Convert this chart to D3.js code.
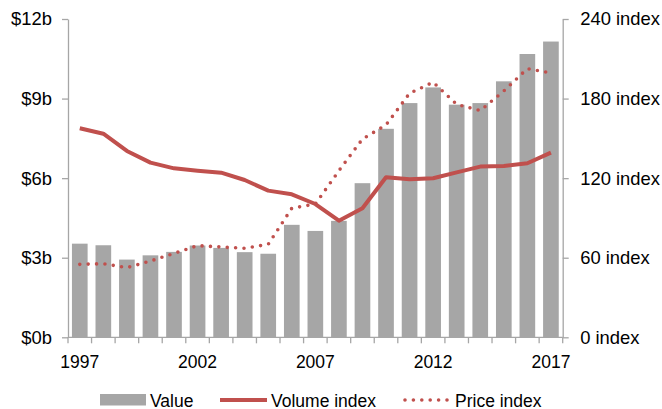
<!DOCTYPE html>
<html><head><meta charset="utf-8">
<script src="https://cdn.jsdelivr.net/npm/d3@7"></script>
<style>
html,body{margin:0;padding:0;background:#fff;}
svg{display:block;font-family:"Liberation Sans",Arial,sans-serif;}
</style></head>
<body><svg id="c" width="662" height="409"></svg>
<script>
const years = [1997,1998,1999,2000,2001,2002,2003,2004,2005,2006,2007,2008,2009,2010,2011,2012,2013,2014,2015,2016,2017];
const value = [3.53,3.47,2.93,3.09,3.22,3.46,3.37,3.21,3.15,4.24,4.01,4.39,5.81,7.86,8.83,9.42,8.77,8.83,9.65,10.68,11.15];
const volumeIndex = [157.6,153.5,140.5,131.7,127.4,125.6,124.1,118.6,110.6,107.8,100.5,87.9,97.3,120.7,119.2,119.9,124.4,128.7,129.2,131.2,139.2];
const priceIndex = [55.0,55.5,52.5,57.5,63.3,69.1,68.1,67.1,70.1,97.3,100.5,125.6,149.5,160.1,184.0,192.3,175.7,170.9,185.7,202.6,199.3];
const leftTicks = [0,3,6,9,12];
const rightTicks = [0,60,120,180,240];
const xLabelYears = [1997,2002,2007,2012,2017];
const legendLabels = ["Value","Volume index","Price index"];

const svg = d3.select("#c");
const L = 68, R = 562.7, T = 19, B = 337.3;
const axisCol = "#a6a6a6", barCol = "#a6a6a6", red = "#c0504d";
const fs = "17.5px", fsY = "18.4px";

const x = d3.scaleBand().domain(years).range([L,R]).paddingInner(0.335).paddingOuter(0.1675);
const yL = d3.scaleLinear().domain([0,12]).range([B,T]);
const yR = d3.scaleLinear().domain([0,240]).range([B,T]);

// bars
svg.append("g").selectAll("rect").data(years).join("rect")
  .attr("x", d => x(d)).attr("width", x.bandwidth())
  .attr("y", (d,i) => yL(value[i])).attr("height", (d,i) => B - yL(value[i]))
  .attr("fill", barCol);

// left axis
const gl = svg.append("g").attr("transform",`translate(${L},0)`)
  .call(d3.axisLeft(yL).tickValues(leftTicks).tickFormat(d=>`$${d}b`).tickSize(6).tickPadding(10).tickSizeOuter(0));
// right axis
const gr = svg.append("g").attr("transform",`translate(${R},0)`)
  .call(d3.axisRight(yR).tickValues(rightTicks).tickFormat(d=>`${d} index`).tickSize(6).tickPadding(11.5).tickSizeOuter(0));
[gl,gr].forEach(g=>{
  g.select(".domain").attr("stroke",axisCol).attr("stroke-width",1.3);
  g.selectAll(".tick line").attr("stroke",axisCol).attr("stroke-width",1.3);
  g.selectAll(".tick text").attr("fill","#000").style("font-size",fsY).style("font-family","Liberation Sans, Arial, sans-serif");
});

// x axis
const gx = svg.append("g");
gx.append("line").attr("x1",L).attr("x2",R).attr("y1",B).attr("y2",B).attr("stroke",axisCol).attr("stroke-width",1.3);
const gap = (x.step()-x.bandwidth())/2;
const bounds = years.map(y => x(y)-gap).concat([x(years[years.length-1])+x.bandwidth()+gap]);
gx.selectAll("line.t").data(bounds).join("line").attr("class","t")
  .attr("x1",d=>d).attr("x2",d=>d).attr("y1",B).attr("y2",B+6).attr("stroke",axisCol).attr("stroke-width",1.3);
gx.selectAll("text").data(xLabelYears).join("text")
  .attr("x",d=>x(d)+x.bandwidth()/2).attr("y",B+31)
  .attr("text-anchor","middle").attr("font-size",fs).text(d=>d);

// lines
const cx = d => x(d)+x.bandwidth()/2;
const lineV = d3.line().x((d,i)=>cx(years[i])).y(d=>yR(d));
svg.append("path").datum(volumeIndex).attr("d",lineV)
  .attr("fill","none").attr("stroke",red).attr("stroke-width",4).attr("stroke-linejoin","round");
svg.append("path").datum(priceIndex).attr("d",lineV)
  .attr("fill","none").attr("stroke",red).attr("stroke-width",3.6)
  .attr("stroke-linecap","round").attr("stroke-dasharray","0,8.4");

// legend
const ly = 400;
const lg = svg.append("g").attr("font-size",fs);
lg.append("rect").attr("x",100).attr("y",ly-6).attr("width",46).attr("height",11.5).attr("fill",barCol);
lg.append("text").attr("x",150).attr("y",ly+6.5).text(legendLabels[0]);
lg.append("line").attr("x1",220).attr("x2",267).attr("y1",ly).attr("y2",ly).attr("stroke",red).attr("stroke-width",4);
lg.append("text").attr("x",271).attr("y",ly+6.5).text(legendLabels[1]);
lg.append("line").attr("x1",405).attr("x2",447).attr("y1",ly).attr("y2",ly).attr("stroke",red).attr("stroke-width",3.6)
  .attr("stroke-linecap","round").attr("stroke-dasharray","0,8.4");
lg.append("text").attr("x",455).attr("y",ly+6.5).text(legendLabels[2]);
</script></body></html>
